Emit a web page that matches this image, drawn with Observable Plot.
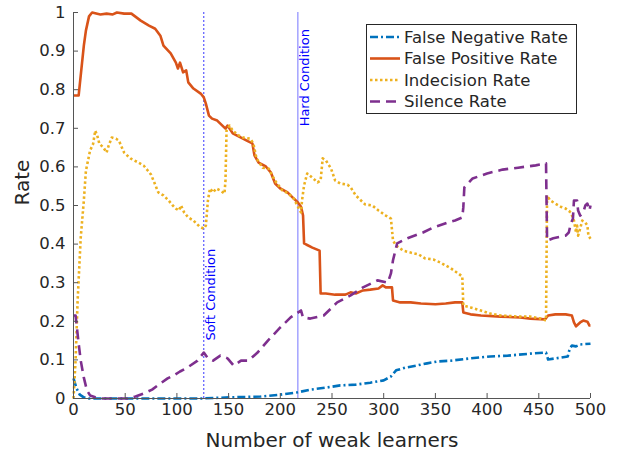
<!DOCTYPE html>
<html><head><meta charset="utf-8">
<script src="https://cdn.jsdelivr.net/npm/d3@7"></script>
<script src="https://cdn.jsdelivr.net/npm/@observablehq/plot@0.6"></script>
<style>
body{margin:0;background:#fff;}
#wrap{position:relative;width:619px;height:454px;font-family:"DejaVu Sans",sans-serif;}
#legend{position:absolute;left:366px;top:24px;}
</style>
</head><body><div id="wrap"></div>
<script>
// ---- data ----
const seriesNames = ["False Negative Rate", "False Positive Rate", "Indecision Rate", "Silence Rate"];
const seriesColors = ["#0072BD", "#D95319", "#EDB120", "#7E2F8E"];
const seriesDash = ["8,3,2,3", null, "2.5,2.5", "10,6"];

const fnrX = [0,3,6,10,15,123,152,181,200,217,229,244,258,273,287,300,307,312,321,331,342,352,365,384,403,420,445,457,459,471,478,480,482,486,490,500];
const fnrY = [0.052,0.026,0.010,0.003,0,0,0.003,0.005,0.010,0.016,0.023,0.028,0.034,0.036,0.041,0.047,0.057,0.073,0.080,0.085,0.091,0.096,0.098,0.104,0.109,0.111,0.117,0.119,0.101,0.106,0.109,0.130,0.137,0.135,0.140,0.142];

const fprX = [0,5,7,10,12,15,18,26,32,38,42,49,56,65,73,79,84,87,94,99,101,103,106,109,111,116,123,126,128,131,134,139,147,149,154,162,169,173,175,179,186,191,195,200,207,213,217,220,222,223,225,231,238,239,244,253,263,268,273,280,287,295,299,302,308,309,316,326,336,350,360,369,376,377,384,394,413,432,442,456,459,466,476,482,484,486,490,493,497,499,500];
const fprY = [0.785,0.785,0.837,0.914,0.953,0.990,1.0,0.995,0.997,0.995,1.0,0.997,0.997,0.979,0.966,0.958,0.940,0.914,0.894,0.870,0.855,0.870,0.845,0.850,0.819,0.803,0.790,0.780,0.764,0.733,0.725,0.720,0.699,0.707,0.687,0.676,0.666,0.661,0.630,0.611,0.601,0.585,0.557,0.544,0.534,0.518,0.508,0.497,0.474,0.402,0.399,0.391,0.383,0.272,0.272,0.269,0.269,0.275,0.272,0.280,0.282,0.285,0.293,0.288,0.288,0.254,0.249,0.249,0.246,0.244,0.246,0.249,0.249,0.223,0.218,0.215,0.212,0.210,0.207,0.205,0.215,0.218,0.218,0.215,0.197,0.187,0.197,0.202,0.199,0.189,0.189];

const indX = [0,2,4,7,10,12,16,19,21,23,25,29,32,34,37,41,44,46,49,55,63,68,72,75,79,82,87,92,96,99,102,104,107,111,116,122,126,128,130,132,135,138,142,146,147,148,151,154,160,164,171,174,177,183,189,192,196,202,208,213,218,220,221,223,226,231,236,239,241,244,249,253,258,265,268,273,278,282,289,295,302,307,309,312,319,326,334,340,348,355,365,372,376,377,384,394,403,413,432,442,452,457,458,461,466,471,476,481,484,486,487,488,490,492,495,497,498,500];
const indY = [0,0.098,0.254,0.417,0.513,0.590,0.642,0.660,0.694,0.681,0.660,0.650,0.637,0.655,0.676,0.673,0.668,0.655,0.637,0.622,0.611,0.603,0.590,0.580,0.554,0.534,0.526,0.513,0.500,0.492,0.487,0.500,0.482,0.469,0.461,0.445,0.440,0.448,0.513,0.544,0.534,0.544,0.539,0.531,0.565,0.694,0.707,0.694,0.681,0.676,0.673,0.660,0.622,0.598,0.595,0.578,0.560,0.539,0.531,0.518,0.492,0.482,0.513,0.552,0.583,0.572,0.560,0.565,0.622,0.617,0.596,0.565,0.557,0.554,0.547,0.526,0.513,0.503,0.500,0.487,0.474,0.466,0.409,0.396,0.383,0.378,0.373,0.363,0.360,0.352,0.337,0.324,0.316,0.241,0.236,0.228,0.220,0.215,0.212,0.212,0.207,0.202,0.526,0.513,0.505,0.497,0.492,0.482,0.461,0.430,0.448,0.422,0.440,0.461,0.456,0.448,0.422,0.414];

const silX = [0,2,5,7,10,13,16,21,26,52,60,68,76,84,91,97,103,110,120,126,130,135,142,149,155,162,169,178,188,200,210,220,222,229,242,255,268,280,294,304,307,309,313,323,338,348,362,369,376,377,378,386,400,415,430,447,457,458,464,476,479,481,483,484,487,488,490,493,495,497,499,500];
const silY = [0.215,0.215,0.142,0.098,0.054,0.021,0.008,0.003,0,0,0.005,0.013,0.023,0.039,0.052,0.060,0.070,0.080,0.098,0.119,0.104,0.098,0.111,0.104,0.085,0.098,0.098,0.119,0.150,0.184,0.210,0.228,0.210,0.207,0.215,0.249,0.267,0.288,0.306,0.300,0.324,0.358,0.402,0.415,0.430,0.443,0.456,0.461,0.469,0.495,0.547,0.570,0.583,0.593,0.598,0.604,0.609,0.409,0.415,0.422,0.430,0.453,0.466,0.513,0.513,0.487,0.474,0.482,0.500,0.505,0.487,0.500];

const condNames = ["Soft Condition", "Hard Condition"];
const condX = [126, 217];
const condTextY = [0.15, 0.705];
const condDash = ["2,2", null];

const xTicks = [0,50,100,150,200,250,300,350,400,450,500];
const yTicks = [0,0.1,0.2,0.3,0.4,0.5,0.6,0.7,0.8,0.9,1];
const xLabel = "Number of weak learners";
const yLabel = "Rate";

// ---- build ----
const seriesXY = [[fnrX,fnrY],[fprX,fprY],[indX,indY],[silX,silY]];
const lineMarks = seriesXY.map(([xs, ys], i) =>
  Plot.line(xs.map((x, j) => ({x, y: ys[j]})), {
    x: "x", y: "y", stroke: seriesColors[i], strokeWidth: 2.6,
    strokeDasharray: seriesDash[i], strokeLinejoin: "round",
    strokeLinecap: "butt", curve: "linear"
  })
);
const conds = condNames.map((name, i) => ({name, x: condX[i], ty: condTextY[i], dash: condDash[i]}));

const chart = Plot.plot({
  width: 619, height: 454,
  marginLeft: 73, marginRight: 29, marginTop: 12, marginBottom: 56,
  style: {fontFamily: "DejaVu Sans, sans-serif", color: "#262626", background: "#fff"},
  x: {domain: [0, 500]},
  y: {domain: [0, 1]},
  marks: [
    Plot.ruleX(conds.filter(d => d.dash), {x: "x", stroke: "#2020ff", strokeWidth: 0.9, strokeDasharray: "2,2"}),
    Plot.ruleX(conds.filter(d => !d.dash), {x: "x", stroke: "#5050ff", strokeWidth: 0.8}),
    ...lineMarks,
    Plot.text(conds, {x: "x", y: "ty", text: "name", rotate: -90, textAnchor: "start", lineAnchor: "top", dx: 2, fill: "#0000ff", fontSize: 13}),
    Plot.axisX({ticks: xTicks, tickSize: 0, tickPadding: 5, fontSize: 16.5, label: null, tickFormat: d => String(d)}),
    Plot.axisY({ticks: yTicks, tickSize: 0, tickPadding: 8, fontSize: 16.5, label: null, tickFormat: d => d3.format("~g")(d)}),
    Plot.tickX(xTicks, {x: d => d, stroke: "#555", strokeWidth: 1, insetTop: 381}),
    Plot.tickY(yTicks, {y: d => d, stroke: "#555", strokeWidth: 1, insetRight: 512}),
    Plot.ruleX([0], {stroke: "#555", strokeWidth: 1}),
    Plot.ruleY([0], {stroke: "#555", strokeWidth: 1}),
    Plot.text([xLabel], {frameAnchor: "bottom", dy: 42, text: d => d, fontSize: 20, fill: "#262626", lineAnchor: "middle"}),
    Plot.text([yLabel], {frameAnchor: "left", dx: -51, rotate: -90, text: d => d, fontSize: 20, fill: "#262626", lineAnchor: "middle"})
  ]
});
const wrap = document.getElementById("wrap");
wrap.appendChild(chart);

// ---- legend ----
const lg = d3.select(wrap).append("svg").attr("id", "legend").attr("width", 212).attr("height", 91);
lg.append("rect").attr("x", 0.5).attr("y", 0.5).attr("width", 210).attr("height", 89)
  .attr("fill", "#fff").attr("stroke", "#262626").attr("stroke-width", 1);
seriesNames.forEach((name, i) => {
  const cy = 13 + i * 21.5;
  lg.append("line").attr("x1", 4).attr("x2", 34).attr("y1", cy).attr("y2", cy)
    .attr("stroke", seriesColors[i]).attr("stroke-width", 2.6)
    .attr("stroke-dasharray", seriesDash[i]);
  lg.append("text").attr("x", 38).attr("y", cy).attr("dy", "0.35em")
    .attr("font-size", 16.5).attr("fill", "#262626").attr("font-family", "DejaVu Sans, sans-serif")
    .text(name);
});
</script>
</body></html>
